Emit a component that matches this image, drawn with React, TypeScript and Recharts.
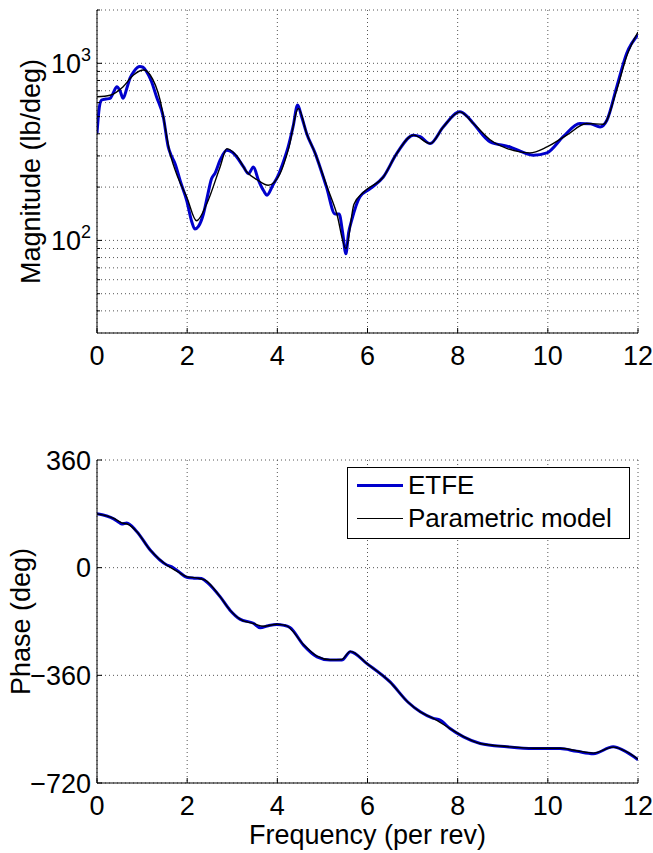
import { LineChart, Line, XAxis, YAxis, CartesianGrid, Legend, Label } from "recharts";

const FONT = '"Liberation Sans", Arial, Helvetica, sans-serif';

// ETFE magnitude (lb/deg) vs frequency (per rev)
const etfeMagFreq = [
  0, 0.05, 0.1, 0.2, 0.29, 0.36, 0.44, 0.51, 0.58, 0.66, 0.73, 0.82, 0.95, 1.02, 1.1, 1.2, 1.32, 1.47,
  1.58, 1.65, 1.73, 1.85, 1.99, 2.1, 2.17, 2.25, 2.36, 2.45, 2.54, 2.62, 2.73, 2.88, 3.0, 3.1, 3.25,
  3.36, 3.47, 3.58, 3.7, 3.77, 3.9, 4.02, 4.15, 4.24, 4.35, 4.45, 4.54, 4.65, 4.84, 5.09, 5.28, 5.37,
  5.45, 5.52, 5.58, 5.65, 5.83, 6.06, 6.35, 6.65, 7.02, 7.17, 7.39, 7.68, 8.05, 8.2, 8.35, 8.72, 9.16,
  9.4, 9.68, 9.98, 10.34, 10.71, 10.95, 11.16, 11.31, 11.53, 11.75, 12,
];
const etfeMag = [
  403, 560, 620, 628, 634, 680, 738, 700, 634, 720, 822, 900, 958, 950, 897, 800, 647, 499,
  337, 300, 272, 215, 168, 128, 116, 120, 141, 178, 223, 240, 284, 323, 315, 296, 260,
  238, 260, 219, 190, 180, 205, 233, 285, 337, 440, 581, 499, 402, 310, 200, 141, 141,
  110, 84, 110, 130, 176, 196, 228, 310, 393, 385, 352, 437, 532, 505, 457, 360, 337,
  318, 303, 312, 385, 457, 455, 437, 477, 738, 1140, 1450,
];

// parametric model magnitude
const modelMagFreq = [
  0, 0.29, 0.58, 0.81, 1.03, 1.18, 1.4, 1.62, 1.8, 1.99, 2.21, 2.43, 2.73, 2.88, 3.1, 3.32, 3.55, 3.8,
  4.06, 4.25, 4.47, 4.65, 4.84, 5.09, 5.32, 5.52, 5.7, 5.91, 6.35, 6.65, 7.02, 7.39, 7.68, 8.05, 8.35,
  8.72, 9.1, 9.38, 9.6, 9.98, 10.42, 10.86, 11.23, 11.53, 11.75, 12,
];
const modelMag = [
  647, 660, 738, 859, 916, 859, 620, 310, 225, 176, 129, 160, 260, 330, 300, 244, 220, 205,
  238, 330, 556, 402, 310, 205, 141, 90, 160, 187, 228, 310, 393, 352, 437, 532, 457,
  370, 330, 316, 312, 337, 393, 457, 453, 710, 1100, 1500,
];

// ETFE phase (deg)
const etfePhaseFreq = [
  0, 0.37, 0.5, 0.55, 0.66, 0.88, 1.18, 1.55, 1.66, 1.8, 1.99, 2.15, 2.32, 2.45, 2.73, 2.95, 3.17,
  3.47, 3.62, 3.8, 3.99, 4.15, 4.28, 4.58, 4.88, 5.17, 5.43, 5.62, 5.98, 6.5, 6.9, 7.17, 7.46, 7.61,
  7.83, 8.13, 8.5, 9.09, 9.68, 10.27, 10.64, 11.01, 11.45, 11.68, 12,
];
const etfePhase = [
  180, 163, 150, 146, 149, 121, 59, 9, 3, -12, -32, -35, -36, -50, -97, -142, -172,
  -186, -201, -194, -190, -193, -200, -259, -298, -309, -309, -281, -320, -382, -450, -482, -504, -510,
  -538, -566, -588, -599, -605, -605, -614, -622, -599, -611, -642,
];

// parametric model phase
const modelPhaseFreq = [
  0, 0.37, 0.55, 0.7, 0.88, 1.18, 1.55, 1.8, 1.99, 2.2, 2.4, 2.73, 2.95, 3.17, 3.47, 3.7, 3.99,
  4.2, 4.58, 4.88, 5.17, 5.43, 5.62, 5.98, 6.5, 6.9, 7.17, 7.46, 7.83, 8.13, 8.5, 9.09, 9.68, 10.27,
  10.64, 11.01, 11.45, 11.7, 12,
];
const modelPhase = [
  180, 165, 150, 144, 121, 59, 8, -14, -30, -34, -42, -97, -142, -172, -187, -196, -189,
  -194, -257, -296, -308, -307, -280, -320, -382, -450, -482, -504, -538, -565, -588, -598, -604, -604,
  -612, -620, -600, -612, -640,
];

const freqTicks = [0, 2, 4, 6, 8, 10, 12];
const magTicks = [40, 50, 60, 70, 80, 90, 100, 200, 300, 400, 500, 600, 700, 800, 900, 1000, 2000];
const magExponent: Record<number, string> = { 100: "2", 1000: "3" };
const phaseTicks = [-720, -360, 0, 360];

const toPoints = (f: number[], v: number[]) => f.map((x, i) => ({ f: x, v: v[i] }));

const etfeMagData = toPoints(etfeMagFreq, etfeMag);
const modelMagData = toPoints(modelMagFreq, modelMag);
const etfePhaseData = toPoints(etfePhaseFreq, etfePhase);
const modelPhaseData = toPoints(modelPhaseFreq, modelPhase);

const textProps = { fontFamily: FONT, fontSize: 27, fill: "#000" };

// x ticks point into the plot, labels sit below the axis
const FreqTick = ({ x, y, payload }: any) => (
  <g>
    <line x1={x} x2={x} y1={y - 12} y2={y - 17} stroke="#000" />
    <text x={x} y={y + 19.5} textAnchor="middle" {...textProps}>
      {payload.value}
    </text>
  </g>
);

const MagTick = ({ x, y, payload }: any) => {
  const exp = magExponent[payload.value];
  return (
    <g>
      <line x1={x + 6} x2={x + 6 + (exp ? 5 : 3)} y1={y} y2={y} stroke="#000" />
      {exp && (
        <text x={x} y={y + 10} textAnchor="end" {...textProps}>
          <tspan>10</tspan>
          <tspan dy={-12} fontSize={18}>
            {exp}
          </tspan>
        </text>
      )}
    </g>
  );
};

const PhaseTick = ({ x, y, payload }: any) => (
  <g>
    <line x1={x + 6} x2={x + 11} y1={y} y2={y} stroke="#000" />
    <text x={x} y={y + 9.7} textAnchor="end" {...textProps}>
      {payload.value < 0 ? "\u2212" + Math.abs(payload.value) : payload.value}
    </text>
  </g>
);

const yTitle = (text: string, cx: number) => (props: any) => {
  const vb = props.viewBox;
  const cy = vb.y + vb.height / 2;
  return (
    <text x={cx} y={cy} transform={`rotate(-90 ${cx} ${cy})`} textAnchor="middle" dominantBaseline="central" {...textProps}>
      {text}
    </text>
  );
};

const xTitle = (props: any) => {
  const vb = props.viewBox;
  return (
    <text x={vb.x + vb.width / 2} y={vb.y + 61} textAnchor="middle" {...textProps}>
      Frequency (per rev)
    </text>
  );
};

const LegendBox = ({ payload }: any) => (
  <div
    style={{
      width: 283,
      height: 72,
      boxSizing: "border-box",
      border: "1px solid #000",
      background: "#fff",
      fontFamily: FONT,
      fontSize: 26,
      paddingTop: 1,
    }}
  >
    {(payload || []).map((entry: any) => (
      <div key={entry.value} style={{ display: "flex", alignItems: "center", height: 33 }}>
        <div
          style={{
            marginLeft: 9,
            width: 46,
            height: entry.value === "ETFE" ? 3 : 1.4,
            background: entry.color,
          }}
        />
        <span style={{ marginLeft: 5, lineHeight: "33px" }}>{entry.value}</span>
      </div>
    ))}
  </div>
);

const gridProps = { stroke: "#555", strokeDasharray: "1 3" };

export default function App() {
  return (
    <div style={{ position: "absolute", left: 0, top: 0, width: 653, height: 853, background: "#fff" }}>
      <div style={{ position: "absolute", left: 0, top: 0 }}>
        <LineChart width={653} height={380} margin={{ top: 10, right: 15, bottom: 0, left: 0 }}>
          <CartesianGrid {...gridProps} />
          <XAxis
            dataKey="f"
            type="number"
            domain={[0, 12]}
            ticks={freqTicks}
            interval={0}
            height={47}
            tickSize={0}
            tickMargin={12}
            tick={<FreqTick />}
            axisLine={{ stroke: "#000" }}
            allowDataOverflow
          />
          <YAxis
            dataKey="v"
            type="number"
            scale="log"
            domain={[30, 2000]}
            ticks={magTicks}
            interval={0}
            width={97}
            tickSize={0}
            tickMargin={6}
            tick={<MagTick />}
            axisLine={{ stroke: "#000" }}
            allowDataOverflow
          >
            <Label content={yTitle("Magnitude (lb/deg)", 31)} />
          </YAxis>
          <Line data={etfeMagData} dataKey="v" name="ETFE" type="monotone" stroke="#0000cc" strokeWidth={3} dot={false} isAnimationActive={false} />
          <Line data={modelMagData} dataKey="v" name="Parametric model" type="monotone" stroke="#000" strokeWidth={1.4} dot={false} isAnimationActive={false} />
        </LineChart>
      </div>
      <div style={{ position: "absolute", left: 0, top: 440 }}>
        <LineChart width={653} height={413} margin={{ top: 20, right: 15, bottom: 0, left: 0 }}>
          <CartesianGrid {...gridProps} />
          <XAxis
            dataKey="f"
            type="number"
            domain={[0, 12]}
            ticks={freqTicks}
            interval={0}
            height={70}
            tickSize={0}
            tickMargin={12}
            tick={<FreqTick />}
            axisLine={{ stroke: "#000" }}
            allowDataOverflow
          >
            <Label content={xTitle} />
          </XAxis>
          <YAxis
            dataKey="v"
            type="number"
            domain={[-720, 360]}
            ticks={phaseTicks}
            interval={0}
            width={97}
            tickSize={0}
            tickMargin={6}
            tick={<PhaseTick />}
            axisLine={{ stroke: "#000" }}
            allowDataOverflow
          >
            <Label content={yTitle("Phase (deg)", 21)} />
          </YAxis>
          <Legend
            layout="vertical"
            align="center"
            verticalAlign="middle"
            content={<LegendBox />}
            wrapperStyle={{ left: 347, top: 27, width: 283, height: 72 }}
          />
          <Line data={etfePhaseData} dataKey="v" name="ETFE" type="monotone" stroke="#0000cc" strokeWidth={3} dot={false} isAnimationActive={false} />
          <Line data={modelPhaseData} dataKey="v" name="Parametric model" type="monotone" stroke="#000" strokeWidth={1.4} dot={false} isAnimationActive={false} />
        </LineChart>
      </div>
    </div>
  );
}
